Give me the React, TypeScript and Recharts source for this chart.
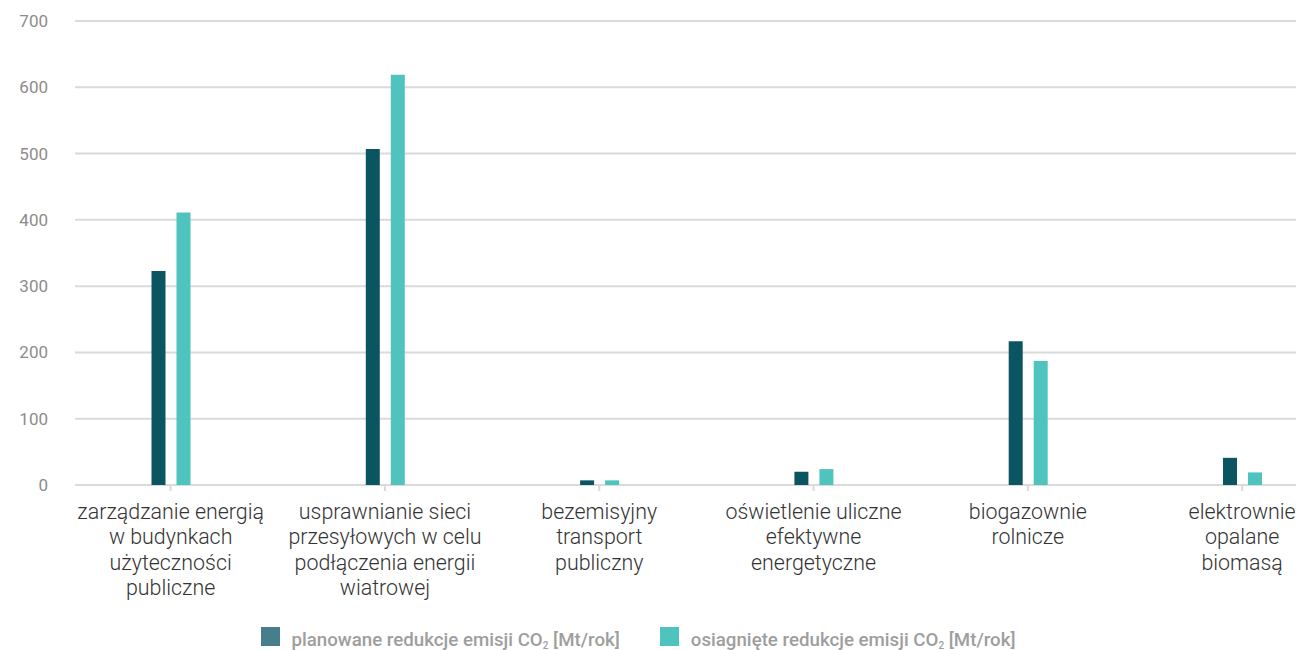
import { BarChart, Bar, XAxis, YAxis, CartesianGrid } from 'recharts';

const categories = [
  'zarządzanie energią\nw budynkach\nużyteczności\npubliczne',
  'usprawnianie sieci\nprzesyłowych w celu\npodłączenia energii\nwiatrowej',
  'bezemisyjny\ntransport\npubliczny',
  'oświetlenie uliczne\nefektywne\nenergetyczne',
  'biogazownie\nrolnicze',
  'elektrownie\nopalane\nbiomasą',
];
const planned = [323, 507, 7, 20, 217, 41];
const achieved = [411, 619, 7, 24, 187, 19];
const yTicks = [0, 100, 200, 300, 400, 500, 600, 700];

const DARK = '#0b5562';
const TEAL = '#4fc3bd';

const data = categories.map((name, i) => ({
  name,
  planned: planned[i],
  achieved: achieved[i],
}));

function CategoryTick({ x, y, payload }: any) {
  const lines = String(payload.value).split('\n');
  return (
    <text x={x} y={y} textAnchor="middle" fill="#333" fontSize={21.4} fontWeight={300}>
      {lines.map((line, i) => (
        <tspan key={i} x={x} dy={i === 0 ? 26 : 25.3}>
          {line}
        </tspan>
      ))}
    </text>
  );
}

function LegendItem({ color, label }: { color: string; label: string }) {
  return (
    <div style={{ display: 'flex', alignItems: 'flex-start' }}>
      <span style={{ width: 19, height: 19, background: color, display: 'inline-block' }} />
      <span
        style={{
          marginLeft: 12,
          marginTop: 4,
          fontSize: 18.7,
          lineHeight: '18px',
          fontWeight: 500,
          color: '#9e9e9e',
          whiteSpace: 'nowrap',
        }}
      >
        {label} CO<sub style={{ fontSize: 10, verticalAlign: '-3px', lineHeight: 0 }}>2</sub> [Mt/rok]
      </span>
    </div>
  );
}

export default function App() {
  return (
    <div
      style={{
        position: 'absolute',
        left: 0,
        top: 0,
        width: 1296,
        height: 650,
        overflow: 'hidden',
        background: '#fff',
        fontFamily: 'Roboto, sans-serif',
      }}
    >
      <BarChart
        width={1296}
        height={650}
        data={data}
        margin={{ top: 21, right: 0, bottom: 0, left: 0 }}
        barSize={14}
        barGap={11}
      >
        <CartesianGrid vertical={false} stroke="#dadada" strokeWidth={2} />
        <XAxis
          dataKey="name"
          height={165}
          interval={0}
          padding={{ left: -11.5, right: -53.3 }}
          axisLine={false}
          tickLine={{ stroke: '#dadada', strokeWidth: 2 }}
          tickSize={6}
          tick={<CategoryTick />}
        />
        <YAxis
          width={75}
          domain={[0, 700]}
          ticks={yTicks}
          axisLine={false}
          tickLine={false}
          tickSize={0}
          tickMargin={27}
          tick={{ fill: '#8c8c8c', fontSize: 17 }}
        />
        <Bar dataKey="planned" fill={DARK} isAnimationActive={false} />
        <Bar dataKey="achieved" fill={TEAL} isAnimationActive={false} />
      </BarChart>
      <div
        style={{
          position: 'absolute',
          left: 0,
          top: 627,
          width: 1276,
          display: 'flex',
          justifyContent: 'center',
          gap: 40,
        }}
      >
        <LegendItem color="#467f8b" label="planowane redukcje emisji" />
        <LegendItem color={TEAL} label="osiagnięte redukcje emisji" />
      </div>
    </div>
  );
}
